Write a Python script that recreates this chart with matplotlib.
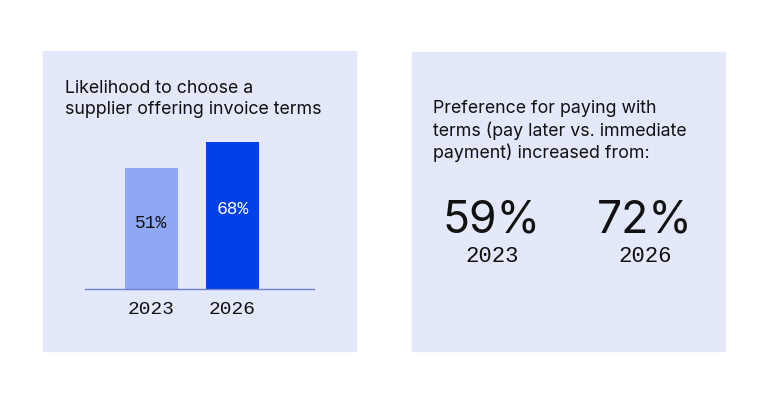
import matplotlib
matplotlib.use("Agg")
import matplotlib.pyplot as plt
from matplotlib.patches import Rectangle

# ---- data ----
years = ["2023", "2026"]
likelihood = [51, 68]
preference = [59, 72]
left_title = "Likelihood to choose a\nsupplier offering invoice terms"
right_title = "Preference for paying with\nterms (pay later vs. immediate\npayment) increased from:"

W, H = 768, 403
fig = plt.figure(figsize=(W / 100, H / 100), dpi=100)
fig.patch.set_facecolor("white")

PANEL = "#E3E8FB"
LIGHT = "#8FA8F4"
DARK = "#0040E6"
AXIS = "#6F7FD6"
TXT = "#111111"
SANS = ["Inter", "DejaVu Sans"]
MONO = ["Liberation Mono", "DejaVu Sans Mono"]


def fx(px):
    return px / W


def fy(py):
    return 1 - py / H


# panels
fig.patches.append(Rectangle((fx(43), fy(351)), fx(356 - 43), (351 - 51) / H,
                             transform=fig.transFigure, color=PANEL, zorder=-5))
fig.patches.append(Rectangle((fx(412), fy(351)), fx(725 - 412), (351 - 52) / H,
                             transform=fig.transFigure, color=PANEL, zorder=-5))

# left title
fig.text(fx(65), fy(99), left_title, ha="left", va="center", fontsize=12.8,
         family=SANS, color=TXT, linespacing=1.25)

# bar axes
BASE = -28
ppu = 147 / (68 - BASE)
ax_left, ax_right, ax_bottom, ax_top = 85, 314, 289, 130
ax = fig.add_axes([fx(ax_left), fy(ax_bottom), fx(ax_right - ax_left), (ax_bottom - ax_top) / H])
ax.set_zorder(2)
ax.set_facecolor("none")
xs = [0, 1]
ax.bar(xs, [v - BASE for v in likelihood], bottom=BASE, width=0.654,
       color=[LIGHT, DARK], zorder=2)
ax.set_xlim(-0.821, 2.006)
ax.set_ylim(BASE, BASE + (ax_bottom - ax_top) / ppu)
for s in ["top", "left", "right"]:
    ax.spines[s].set_visible(False)
ax.spines["bottom"].set_color(AXIS)
ax.spines["bottom"].set_linewidth(1.0)
ax.spines["bottom"].set_zorder(3)
ax.set_yticks([])
ax.set_xticks([])
label_colors = [TXT, "white"]
label_y = [223, 210]
for x, v, c, ly, yr in zip(xs, likelihood, label_colors, label_y, years):
    ax.annotate(f"{v}%", (x, 0), xycoords=("data", "axes fraction"),
                xytext=(0, (ax_bottom - ly) * 0.72), textcoords="offset points",
                ha="center", va="center", fontsize=13, family=MONO, color=c, zorder=4)
    ax.annotate(yr, (x, 0), xycoords=("data", "axes fraction"),
                xytext=(0, -21 * 0.72), textcoords="offset points",
                ha="center", va="center", fontsize=14, family=MONO, color=TXT,
                annotation_clip=False)

# right panel
fig.text(fx(433), fy(131), right_title, ha="left", va="center", fontsize=12.8,
         family=SANS, color=TXT, linespacing=1.25)
centers = [492, 645]
for cx, v, yr in zip(centers, preference, years):
    fig.text(fx(cx), fy(221), f"{v}%", ha="center", va="center", fontsize=32,
             family=SANS, color=TXT)
    fig.text(fx(cx), fy(257), yr, ha="center", va="center", fontsize=16,
             family=MONO, color=TXT)

fig.savefig("out.png", dpi=100, facecolor="white")
